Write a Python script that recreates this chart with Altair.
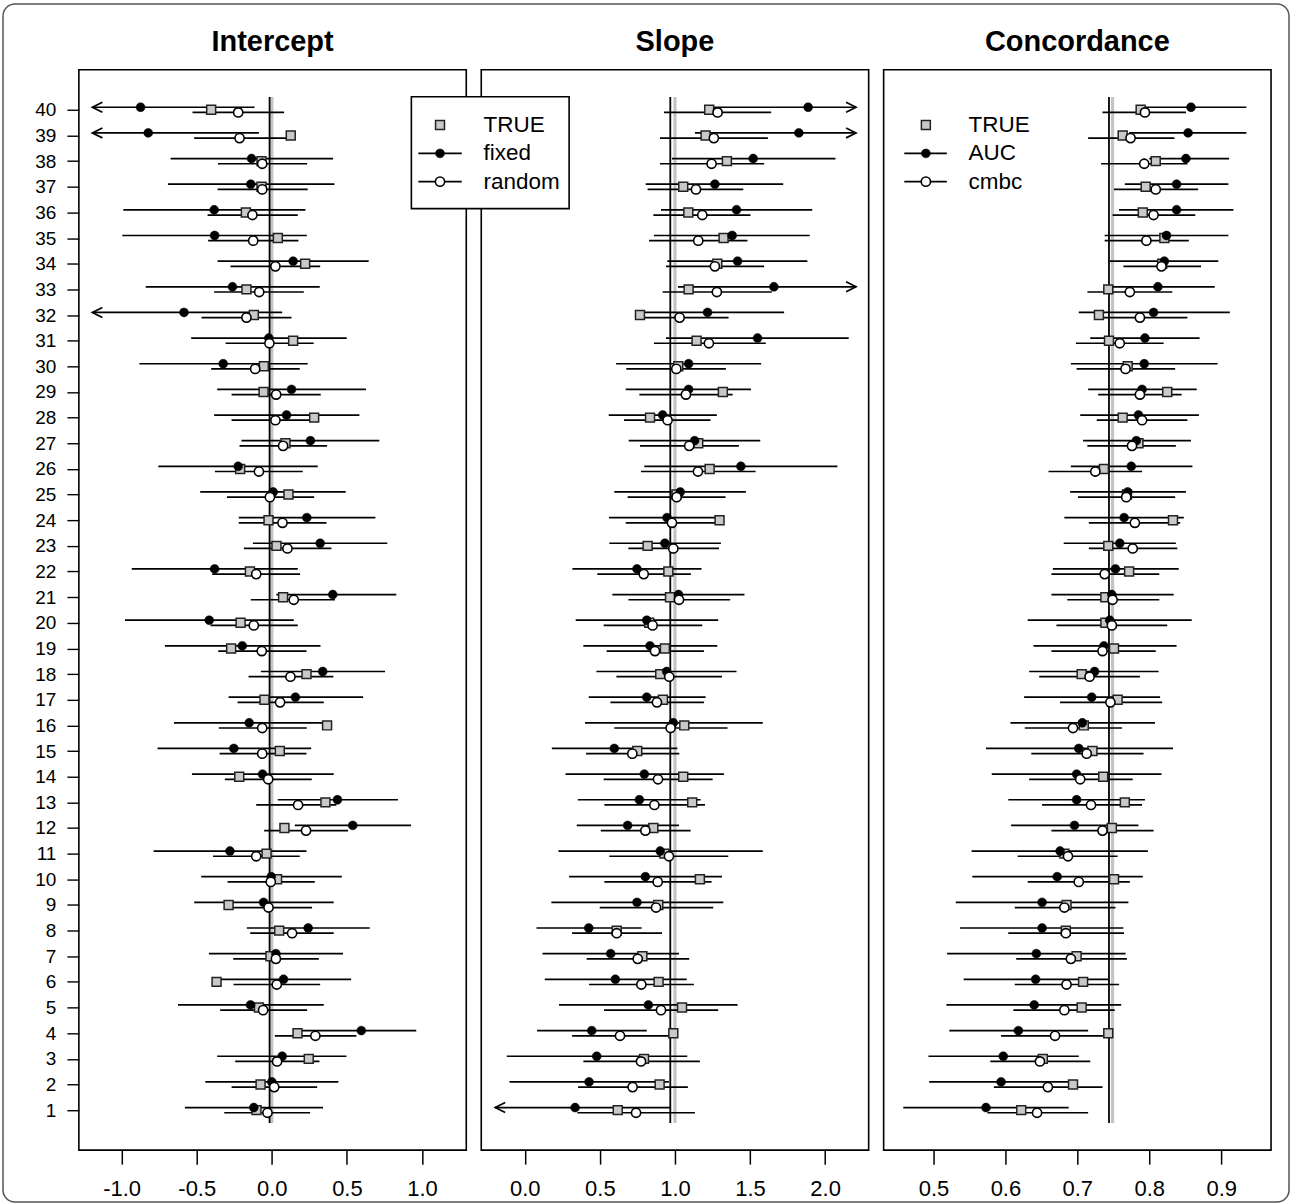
import altair as alt
import pandas as pd

# rows listed from top (40) to bottom (1)
rows = list(range(40, 0, -1))

# ---------------- Intercept ----------------
int_true = [-0.404, 0.126, -0.069, -0.069, -0.173, 0.040, 0.222, -0.169, -0.120, 0.142,
            -0.053, -0.055, 0.282, 0.091, -0.211, 0.111, -0.022, 0.031, -0.146, 0.075,
            -0.208, -0.271, 0.231, -0.049, 0.368, 0.053, -0.217, 0.357, 0.084, -0.035,
            0.035, -0.288, 0.049, -0.009, -0.368, -0.086, 0.171, 0.246, -0.075, -0.102]
int_fixed = [-0.874, -0.823, -0.135, -0.140, -0.384, -0.381, 0.142, -0.262, -0.585, -0.020,
             -0.324, 0.131, 0.098, 0.257, -0.224, 0.009, 0.233, 0.322, -0.381, 0.406,
             -0.417, -0.197, 0.339, 0.157, -0.151, -0.253, -0.062, 0.437, 0.539, -0.279,
             -0.004, -0.055, 0.242, 0.027, 0.078, -0.142, 0.596, 0.069, 0.000, -0.120]
int_fixed_lo = [-1.195, -1.195, -0.674, -0.692, -0.989, -0.996, -0.361, -0.840, -1.195, -0.537,
                -0.882, -0.364, -0.384, -0.202, -0.756, -0.477, -0.220, -0.126, -0.933, 0.030,
                -0.978, -0.712, -0.073, -0.288, -0.652, -0.761, -0.532, 0.040, 0.153, -0.787,
                -0.470, -0.517, -0.166, -0.419, -0.370, -0.625, 0.170, -0.364, -0.443, -0.579]
int_fixed_hi = [-0.115, -0.086, 0.408, 0.417, 0.224, 0.233, 0.645, 0.319, 0.069, 0.499,
                0.239, 0.627, 0.583, 0.716, 0.306, 0.492, 0.690, 0.769, 0.173, 0.829,
                0.146, 0.324, 0.754, 0.608, 0.340, 0.262, 0.412, 0.840, 0.927, 0.231,
                0.466, 0.412, 0.652, 0.474, 0.528, 0.346, 0.962, 0.497, 0.443, 0.341]
int_random = [-0.224, -0.215, -0.064, -0.064, -0.129, -0.124, 0.024, -0.084, -0.169, -0.016,
              -0.111, 0.029, 0.024, 0.075, -0.086, -0.013, 0.071, 0.104, -0.104, 0.146,
              -0.120, -0.067, 0.124, 0.055, -0.064, -0.064, -0.024, 0.175, 0.228, -0.104,
              -0.007, -0.022, 0.135, 0.027, 0.033, -0.058, 0.290, 0.035, 0.016, -0.029]
int_random_lo = [-0.528, -0.517, -0.359, -0.361, -0.428, -0.424, -0.275, -0.384, -0.468, -0.308,
                 -0.404, -0.268, -0.268, -0.215, -0.379, -0.299, -0.220, -0.186, -0.397, -0.140,
                 -0.408, -0.357, -0.155, -0.228, -0.353, -0.348, -0.313, -0.104, -0.051, -0.392,
                 -0.295, -0.308, -0.144, -0.257, -0.255, -0.344, 0.020, -0.244, -0.268, -0.317]
int_random_hi = [0.082, 0.100, 0.235, 0.239, 0.173, 0.177, 0.322, 0.213, 0.131, 0.279,
                 0.186, 0.326, 0.270, 0.368, 0.206, 0.282, 0.364, 0.397, 0.188, 0.420,
                 0.173, 0.231, 0.410, 0.346, 0.233, 0.231, 0.266, 0.430, 0.508, 0.186,
                 0.286, 0.268, 0.412, 0.313, 0.322, 0.235, 0.563, 0.317, 0.302, 0.255]
int_arrow_left = [40, 39, 32]
int_arrow_right = []

# ---------------- Slope ----------------
slo_true = [1.228, 1.204, 1.346, 1.055, 1.089, 1.324, 1.282, 1.091, 0.767, 1.144,
            1.022, 1.319, 0.834, 1.155, 1.231, 1.010, 1.297, 0.818, 0.956, 0.967,
            0.829, 0.933, 0.902, 0.920, 1.062, 0.749, 1.055, 1.115, 0.856, 0.930,
            1.166, 0.889, 0.612, 0.783, 0.891, 1.047, 0.989, 0.794, 0.898, 0.619]
slo_fixed = [1.887, 1.825, 1.521, 1.266, 1.410, 1.381, 1.417, 1.659, 1.217, 1.550,
             1.091, 1.091, 0.918, 1.131, 1.439, 1.035, 0.947, 0.933, 0.747, 1.024,
             0.812, 0.834, 0.945, 0.812, 0.989, 0.596, 0.796, 0.763, 0.685, 0.902,
             0.803, 0.747, 0.426, 0.572, 0.603, 0.823, 0.446, 0.479, 0.428, 0.335]
slo_fixed_lo = [1.220, 1.133, 0.980, 0.805, 0.907, 0.860, 0.949, 1.020, 0.750, 0.940,
                0.608, 0.672, 0.559, 0.692, 0.796, 0.596, 0.561, 0.563, 0.317, 0.583,
                0.339, 0.390, 0.477, 0.426, 0.401, 0.180, 0.271, 0.353, 0.346, 0.224,
                0.295, 0.177, 0.078, 0.118, 0.133, 0.228, 0.082, -0.120, -0.102, -0.197]
slo_fixed_hi = [2.206, 2.206, 2.069, 1.721, 1.914, 1.898, 1.882, 2.206, 1.727, 2.157,
                1.574, 1.506, 1.279, 1.568, 2.082, 1.472, 1.300, 1.306, 1.177, 1.463,
                1.288, 1.282, 1.410, 1.204, 1.585, 1.016, 1.326, 1.171, 1.027, 1.585,
                1.313, 1.322, 0.778, 1.027, 1.078, 1.417, 0.812, 1.082, 0.960, 0.967]
slo_random = [1.284, 1.259, 1.244, 1.140, 1.182, 1.155, 1.266, 1.279, 1.031, 1.226,
              1.009, 1.073, 0.951, 1.095, 1.153, 1.011, 0.980, 0.989, 0.792, 1.027,
              0.851, 0.867, 0.962, 0.880, 0.971, 0.716, 0.887, 0.863, 0.803, 0.960,
              0.885, 0.874, 0.612, 0.752, 0.776, 0.907, 0.634, 0.774, 0.718, 0.741]
slo_random_lo = [0.927, 0.900, 0.900, 0.818, 0.856, 0.827, 0.940, 0.918, 0.734, 0.860,
                 0.676, 0.763, 0.661, 0.767, 0.774, 0.685, 0.672, 0.690, 0.483, 0.690,
                 0.525, 0.545, 0.610, 0.570, 0.596, 0.408, 0.525, 0.530, 0.506, 0.563,
                 0.530, 0.499, 0.315, 0.412, 0.428, 0.528, 0.315, 0.390, 0.355, 0.350]
slo_random_hi = [1.641, 1.619, 1.594, 1.455, 1.503, 1.483, 1.594, 1.645, 1.357, 1.605,
                 1.339, 1.384, 1.237, 1.426, 1.537, 1.337, 1.310, 1.293, 1.106, 1.368,
                 1.182, 1.193, 1.313, 1.193, 1.350, 1.029, 1.251, 1.200, 1.104, 1.355,
                 1.244, 1.255, 0.914, 1.095, 1.126, 1.288, 0.970, 1.166, 1.086, 1.133]
slo_arrow_left = [1]
slo_arrow_right = [40, 39, 33]

# ---------------- Concordance ----------------
con_true = [0.788, 0.763, 0.809, 0.795, 0.791, 0.821, 0.818, 0.743, 0.730, 0.744,
            0.770, 0.825, 0.763, 0.785, 0.737, 0.769, 0.833, 0.743, 0.772, 0.739,
            0.739, 0.751, 0.706, 0.756, 0.709, 0.721, 0.736, 0.766, 0.748, 0.682,
            0.751, 0.685, 0.684, 0.699, 0.708, 0.706, 0.743, 0.652, 0.694, 0.622]
con_fixed = [0.858, 0.854, 0.851, 0.838, 0.838, 0.824, 0.821, 0.812, 0.806, 0.794,
             0.793, 0.790, 0.785, 0.782, 0.775, 0.770, 0.765, 0.759, 0.753, 0.748,
             0.745, 0.737, 0.724, 0.720, 0.707, 0.702, 0.699, 0.699, 0.696, 0.676,
             0.672, 0.651, 0.651, 0.643, 0.642, 0.640, 0.618, 0.597, 0.594, 0.573]
con_fixed_lo = [0.792, 0.772, 0.800, 0.766, 0.758, 0.738, 0.745, 0.745, 0.702, 0.718,
                0.691, 0.715, 0.704, 0.708, 0.691, 0.690, 0.682, 0.681, 0.666, 0.664,
                0.631, 0.639, 0.633, 0.626, 0.607, 0.573, 0.581, 0.604, 0.608, 0.553,
                0.554, 0.531, 0.537, 0.519, 0.542, 0.518, 0.522, 0.493, 0.494, 0.458]
con_fixed_hi = [0.935, 0.935, 0.911, 0.910, 0.917, 0.910, 0.896, 0.891, 0.912, 0.870,
                0.895, 0.866, 0.869, 0.858, 0.860, 0.851, 0.848, 0.837, 0.841, 0.834,
                0.859, 0.838, 0.813, 0.815, 0.808, 0.833, 0.817, 0.794, 0.785, 0.798,
                0.791, 0.771, 0.764, 0.767, 0.743, 0.761, 0.715, 0.702, 0.693, 0.688]
con_random = [0.794, 0.774, 0.793, 0.809, 0.806, 0.796, 0.817, 0.773, 0.787, 0.759,
              0.767, 0.787, 0.790, 0.776, 0.725, 0.768, 0.780, 0.777, 0.738, 0.749,
              0.748, 0.735, 0.717, 0.746, 0.694, 0.713, 0.704, 0.719, 0.735, 0.687,
              0.702, 0.682, 0.684, 0.691, 0.685, 0.682, 0.669, 0.648, 0.659, 0.644]
con_random_lo = [0.735, 0.715, 0.733, 0.751, 0.749, 0.738, 0.764, 0.714, 0.730, 0.698,
                 0.699, 0.729, 0.727, 0.714, 0.660, 0.701, 0.716, 0.716, 0.664, 0.686,
                 0.671, 0.664, 0.647, 0.676, 0.627, 0.636, 0.633, 0.651, 0.664, 0.617,
                 0.631, 0.613, 0.604, 0.615, 0.613, 0.611, 0.594, 0.579, 0.584, 0.575]
con_random_hi = [0.851, 0.835, 0.853, 0.868, 0.864, 0.855, 0.872, 0.832, 0.853, 0.820,
                 0.836, 0.845, 0.853, 0.837, 0.790, 0.836, 0.843, 0.839, 0.814, 0.814,
                 0.825, 0.809, 0.787, 0.818, 0.762, 0.792, 0.777, 0.790, 0.806, 0.756,
                 0.773, 0.753, 0.765, 0.769, 0.758, 0.752, 0.740, 0.718, 0.735, 0.715]
con_arrow_left = []
con_arrow_right = []

# reference lines (black = mean estimate, grey = true mean)
ref_black = [-0.015, 0.969, 0.744]
ref_grey = [0.0, 1.0, 0.749]

titles = ["Intercept", "Slope", "Concordance"]
x_domains = [[-1.285, 1.295], [-0.29, 2.29], [0.4307, 0.9693]]
x_ticks = [[-1.0, -0.5, 0.0, 0.5, 1.0], [0.0, 0.5, 1.0, 1.5, 2.0], [0.5, 0.6, 0.7, 0.8, 0.9]]
legend_labels = [["TRUE", "fixed", "random"], ["TRUE", "AUC", "cmbc"]]

FONT = "Liberation Sans"
W, H = 388, 1082
LINE_W = 1.7
OFF = 2.6
SQ_FILL = "#c9c9c9"
GREY_LINE = "#c4c4c4"

y_scale = alt.Scale(domain=[-0.56, 41.56], nice=False, zero=False)
label_expr = "datum.value < 0 ? '-' + format(-datum.value, '.1f') : format(datum.value, '.1f')"
one = pd.DataFrame({"k": [0]})


def legend_layers(labels, sym_x, line_x0, line_x1, text_x, ys, box=None):
    layers = []
    if box is not None:
        layers.append(alt.Chart(one).mark_rect(fill="white", stroke="black", strokeWidth=1.6).encode(
            x=alt.value(box[0]), x2=alt.value(box[1]), y=alt.value(box[2]), y2=alt.value(box[3])))
    for yy in ys[1:]:
        layers.append(alt.Chart(one).mark_rule(color="black", strokeWidth=LINE_W).encode(
            x=alt.value(line_x0), x2=alt.value(line_x1), y=alt.value(yy)))
    layers.append(alt.Chart(one).mark_point(shape="square", filled=True, fill=SQ_FILL, stroke="#222",
                                            strokeWidth=1.5, size=80, opacity=1).encode(
        x=alt.value(sym_x), y=alt.value(ys[0])))
    layers.append(alt.Chart(one).mark_point(shape="circle", filled=True, fill="black", stroke="black",
                                            strokeWidth=0.5, size=80, opacity=1).encode(
        x=alt.value(sym_x), y=alt.value(ys[1])))
    layers.append(alt.Chart(one).mark_point(shape="circle", filled=True, fill="white", stroke="black",
                                            strokeWidth=1.6, size=85, opacity=1).encode(
        x=alt.value(sym_x), y=alt.value(ys[2])))
    for lab, yy in zip(labels, ys):
        layers.append(alt.Chart(one).mark_text(text=lab, align="left", baseline="middle", font=FONT,
                                               fontSize=22.5, color="black").encode(
            x=alt.value(text_x), y=alt.value(yy)))
    return layers


def make_panel(i, true, fe, flo, fhi, re_, rlo, rhi, arrows_left, arrows_right, show_y, extra=None):
    df = pd.DataFrame({"row": rows, "true": true, "fe": fe, "flo": flo, "fhi": fhi,
                       "re": re_, "rlo": rlo, "rhi": rhi})
    xs = alt.Scale(domain=x_domains[i], nice=False, zero=False)
    if show_y:
        yax = alt.Axis(values=list(range(1, 41)), title=None, domain=False, grid=False, tickSize=12,
                       tickWidth=1.4, tickColor="black", labelFontSize=19, labelFont=FONT,
                       labelColor="black", labelPadding=11, labelOverlap=False, labelFlush=False,
                       labelBound=False)
    else:
        yax = None
    xax = alt.Axis(values=x_ticks[i], title=None, domain=False, grid=False, tickSize=14, tickWidth=1.5,
                   tickColor="black", labelFontSize=22, labelFont=FONT, labelColor="black",
                   labelPadding=14, labelFlush=False, labelOverlap=False, labelExpr=label_expr)

    def X(f):
        return alt.X(f, scale=xs, axis=xax)

    def Y(f):
        return alt.Y(f, scale=y_scale, axis=yax)

    ref = pd.DataFrame({"xb": [ref_black[i]], "xg": [ref_grey[i]],
                        "y0": [min(rows) - 0.5], "y1": [max(rows) + 0.5]})
    base = alt.Chart(df)
    layers = [
        alt.Chart(ref).mark_rule(color=GREY_LINE, strokeWidth=3.2).encode(
            x=X("xg:Q"), y=Y("y0:Q"), y2="y1:Q"),
        alt.Chart(ref).mark_rule(color="black", strokeWidth=1.8).encode(
            x=X("xb:Q"), y=Y("y0:Q"), y2="y1:Q"),
        base.mark_rule(color="black", strokeWidth=LINE_W, yOffset=-OFF).encode(
            x=X("flo:Q"), x2="fhi:Q", y=Y("row:Q")),
        base.mark_rule(color="black", strokeWidth=LINE_W, yOffset=OFF).encode(
            x=X("rlo:Q"), x2="rhi:Q", y=Y("row:Q")),
    ]
    if arrows_left:
        al = df[df["row"].isin(arrows_left)]
        layers.append(alt.Chart(al).mark_point(shape="M2,-1L0,0L2,1", filled=False, stroke="black",
                                               strokeWidth=LINE_W, size=100, yOffset=-OFF, opacity=1).encode(
            x=X("flo:Q"), y=Y("row:Q")))
    if arrows_right:
        ar = df[df["row"].isin(arrows_right)]
        layers.append(alt.Chart(ar).mark_point(shape="M-2,-1L0,0L-2,1", filled=False, stroke="black",
                                               strokeWidth=LINE_W, size=100, yOffset=-OFF, opacity=1).encode(
            x=X("fhi:Q"), y=Y("row:Q")))
    layers += [
        base.mark_point(shape="square", filled=True, fill=SQ_FILL, stroke="#222", strokeWidth=1.5,
                        size=80, opacity=1).encode(x=X("true:Q"), y=Y("row:Q")),
        base.mark_point(shape="circle", filled=True, fill="black", stroke="black", strokeWidth=0.5,
                        size=80, yOffset=-OFF, opacity=1).encode(x=X("fe:Q"), y=Y("row:Q")),
        base.mark_point(shape="circle", filled=True, fill="white", stroke="black", strokeWidth=1.6,
                        size=85, yOffset=OFF, opacity=1).encode(x=X("re:Q"), y=Y("row:Q")),
        # panel title
        alt.Chart(one).mark_text(text=titles[i], font=FONT, fontSize=29, fontWeight="bold",
                                 color="black", align="center", baseline="middle").encode(
            x=alt.value(W / 2), y=alt.value(-28)),
    ]
    if extra:
        layers += extra
    return alt.layer(*layers).properties(width=W, height=H)


legend_ys = [55.3, 83.7, 112.0]

# outer rounded frame (drawn in panel 1 coordinates)
frame = alt.Chart(one).mark_rect(
    fillOpacity=0, stroke="#555555", strokeWidth=1.5, cornerRadius=12).encode(
    x=alt.value(-76), x2=alt.value(1212), y=alt.value(-66), y2=alt.value(1134))

p1 = make_panel(0, int_true, int_fixed, int_fixed_lo, int_fixed_hi, int_random, int_random_lo,
                int_random_hi, int_arrow_left, int_arrow_right, True, extra=[frame])
p2 = make_panel(1, slo_true, slo_fixed, slo_fixed_lo, slo_fixed_hi, slo_random, slo_random_lo,
                slo_random_hi, slo_arrow_left, slo_arrow_right, False,
                extra=legend_layers(legend_labels[0], -41.3, -63, -19.5, 2.3, legend_ys,
                                    box=(-70, 88, 27, 139)))
p3 = make_panel(2, con_true, con_fixed, con_fixed_lo, con_fixed_hi, con_random, con_random_lo,
                con_random_hi, con_arrow_left, con_arrow_right, False,
                extra=legend_layers(legend_labels[1], 42.3, 20.7, 63.3, 85, legend_ys))

chart = alt.hconcat(p1, p2, p3, spacing=15, bounds="flush").properties(
    padding={"left": 1, "top": 1, "right": 1, "bottom": 1},
    background="white",
).configure_view(stroke="black", strokeWidth=1.6).configure_axis(labelOverlap=False)

chart.save("out.html", embed_options={"renderer": "svg", "actions": False})
